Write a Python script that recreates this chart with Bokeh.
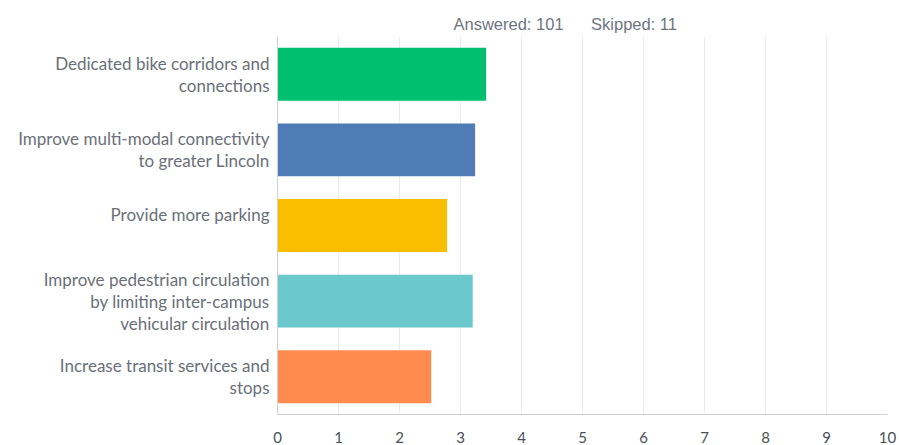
from bokeh.plotting import figure
from bokeh.models import FactorRange, Range1d, FixedTicker, Title
from bokeh.embed import file_html
from bokeh.resources import INLINE

categories = [
    "Dedicated bike corridors and\nconnections",
    "Improve multi-modal connectivity\nto greater Lincoln",
    "Provide more parking\n",
    "Improve pedestrian circulation\nby limiting inter-campus\nvehicular circulation",
    "Increase transit services and\nstops",
]
values = [3.42, 3.24, 2.78, 3.20, 2.52]
colors = ["#00bf6f", "#507cb6", "#f9be00", "#6bc8cd", "#ff8b4f"]
x_ticks = list(range(0, 11))
answered = "Answered: 101"
skipped = "Skipped: 11"

TEXT = "#6b6f78"
FONT = "Lato"

p = figure(
    width=899, height=445,
    y_range=FactorRange(*categories[::-1]),
    x_range=Range1d(0, 10),
    output_backend="svg", toolbar_location=None,
    min_border_left=277, min_border_right=12, min_border_top=36, min_border_bottom=31,
)

p.hbar(y=categories, right=values, left=0, height=0.7, color=colors, line_color=None)

p.outline_line_color = None
p.background_fill_color = "white"
p.border_fill_color = "white"

p.xaxis.ticker = FixedTicker(ticks=x_ticks)
p.xaxis.major_tick_line_color = None
p.xaxis.minor_tick_line_color = None
p.xaxis.axis_line_color = "#cfcfcf"
p.xaxis.major_label_text_font = FONT
p.xaxis.major_label_text_font_size = "15px"
p.xaxis.major_label_text_color = "#4a4f58"
p.xaxis.major_label_standoff = 11

p.yaxis.major_tick_line_color = None
p.yaxis.minor_tick_line_color = None
p.yaxis.axis_line_color = "#cfcfcf"
p.yaxis.major_label_text_font = FONT
p.yaxis.major_label_text_font_size = "17px"
p.yaxis.major_label_text_color = TEXT
p.yaxis.major_label_standoff = 2
p.yaxis.major_label_text_line_height = 1.05

p.xgrid.ticker = FixedTicker(ticks=x_ticks[1:])
p.xgrid.grid_line_color = "#ebebeb"
p.ygrid.grid_line_color = None

nb = "\u00a0" * 6
p.add_layout(Title(text=answered + nb + skipped, align="left", offset=176,
                   text_font="Liberation Sans", text_font_size="16.5px",
                   text_font_style="normal", text_color="#6f7580", standoff=4,
                   vertical_align="top"),
             "above")

open("out.html", "w").write(file_html(p, INLINE))
